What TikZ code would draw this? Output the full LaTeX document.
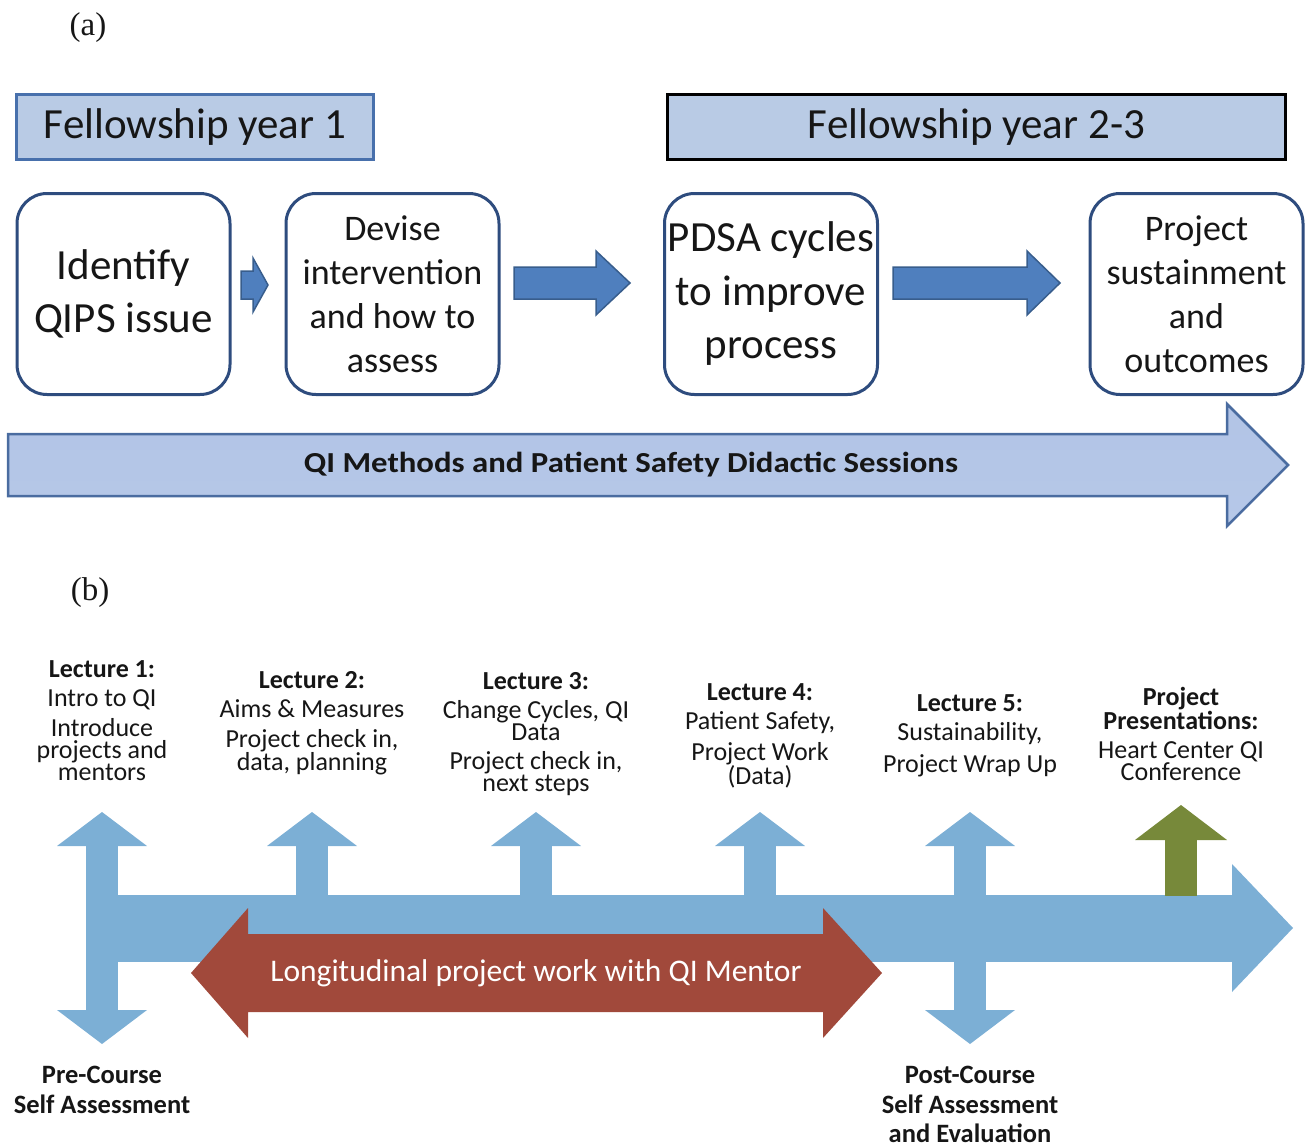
\documentclass[tikz,border=0pt]{standalone}
\usepackage{fontspec}
\setmainfont{Carlito}
\newfontfamily\serifA{Liberation Serif}
\definecolor{txt}{RGB}{22,22,22}
\definecolor{fellowfill}{RGB}{185,203,229}
\definecolor{fellowedge}{RGB}{72,112,172}
\definecolor{navy}{RGB}{46,76,126}
\definecolor{arrowfill}{RGB}{79,127,190}
\definecolor{arrowedge}{RGB}{56,93,140}
\definecolor{didtop}{RGB}{178,196,230}
\definecolor{didmid}{RGB}{214,224,242}
\definecolor{didbot}{RGB}{182,200,232}
\definecolor{didedge}{RGB}{74,108,160}
\definecolor{lblue}{RGB}{124,175,213}
\definecolor{olive}{RGB}{119,137,58}
\definecolor{brick}{RGB}{161,73,59}
\newcommand{\blockR}[6]{% x0, xbase, xtip, yc, halfshaft, halfhead
  (#1,{#4-#5}) -- (#2,{#4-#5}) -- (#2,{#4-#6}) -- (#3,#4) -- (#2,{#4+#6}) -- (#2,{#4+#5}) -- (#1,{#4+#5}) -- cycle}
\newcommand{\upArrowB}[1]{% center x of lecture arrow
  \fill[lblue] ({#1-16},846) rectangle ({#1+16},896);
  \fill[lblue] ({#1-45},846) -- (#1,812) -- ({#1+45},846) -- cycle;}
\begin{document}
\begin{tikzpicture}[x=1pt,y=-1pt,
  every node/.style={text=txt},
  fellowbox/.style={draw=fellowedge, line width=3pt, fill=fellowfill, inner sep=0pt,
     minimum height=65pt, font=\fontsize{43}{52}\selectfont},
  stepbox/.style={draw=navy, line width=3pt, rounded corners=30pt, fill=white,
     align=center, inner sep=0pt, minimum width=213pt, minimum height=201pt},
  bigtxt/.style={font=\fontsize{43}{53}\selectfont},
  medtxt/.style={font=\fontsize{36}{44}\selectfont},
  lbl/.style={align=center, anchor=north, inner sep=0pt, font=\fontsize{26}{22}\selectfont},
  lblb/.style={align=center, anchor=north, inner sep=0pt, font=\fontsize{26.5}{29.5}\selectfont\bfseries},
  panel/.style={font=\serifA\fontsize{33}{36}\selectfont, inner sep=0pt}
]
\useasboundingbox (0,0) rectangle (1307,1146);

% ---------------- (a) ----------------
\node[panel] (pa) at (88,28) {(a)};
\node[fellowbox, minimum width=357pt] (fy1) at (195,127) {Fellowship year 1};
\node[fellowbox, draw=black, minimum width=618pt] (fy2) at (976.5,127) {Fellowship year 2-3};

\node[stepbox, bigtxt] (s1) at (123.5,294) {Identify\\QIPS issue};
\node[stepbox, medtxt] (s2) at (392.5,294) {Devise\\intervention\\and how to\\assess};
\node[stepbox, font=\fontsize{43}{53.5}\selectfont] (s3) at (771,294) {PDSA cycles\\to improve\\process};
\node[stepbox, medtxt] (s4) at (1196.5,294) {Project\\sustainment\\and\\outcomes};

\path[fill=arrowfill, draw=arrowedge, line width=1.5pt] \blockR{241}{253}{268}{285}{14}{27};
\path[fill=arrowfill, draw=arrowedge, line width=1.5pt] \blockR{514}{596}{630}{283}{16}{32};
\path[fill=arrowfill, draw=arrowedge, line width=1.5pt] \blockR{893}{1027}{1060}{283}{16}{32};

\path[draw=didedge, line width=2.5pt, top color=didtop, middle color=didmid, bottom color=didbot]
  \blockR{8}{1227}{1288}{465}{31}{61};
\node[font=\fontsize{29}{32}\selectfont\bfseries] (did) at (631,465) {\scalebox{1.13}[1]{QI Methods and Patient Safety Didactic Sessions}};

% ---------------- (b) ----------------
\node[panel] (pb) at (90,593) {(b)};

% main timeline arrow
\fill[lblue] (100,895) rectangle (1233,962);
\fill[lblue] (1232,864) -- (1293,928) -- (1232,992) -- cycle;
% lecture 1 double arrow
\fill[lblue] (86,846) rectangle (118,1010);
\fill[lblue] (57,846) -- (102,812) -- (147,846) -- cycle;
\fill[lblue] (57,1010) -- (102,1044) -- (147,1010) -- cycle;
% lectures 2-5
\upArrowB{312}
\upArrowB{536}
\upArrowB{760}
\upArrowB{970}
% post-course down arrow
\fill[lblue] (954,960) rectangle (986,1010);
\fill[lblue] (925,1010) -- (970,1044) -- (1015,1010) -- cycle;
% green arrow
\fill[olive] (1165,840) rectangle (1197,896);
\fill[olive] (1135,840) -- (1181,805) -- (1227,840) -- cycle;
% red double arrow
\fill[brick] (191,973) -- (248,908) -- (248,934) -- (823,934) -- (823,908) -- (882,973)
  -- (823,1038) -- (823,1012) -- (248,1012) -- (248,1038) -- cycle;
\node[text=white, font=\fontsize{31.5}{34}\selectfont] (lw) at (536,973) {Longitudinal project work with QI Mentor};

% labels
\node[lbl] (l1) at (102,660) {\textbf{Lecture 1:}\\[7pt]Intro to QI\\[8pt]Introduce\\projects and\\mentors};
\node[lbl] (l2) at (312,671) {\textbf{Lecture 2:}\\[7pt]Aims \& Measures\\[8pt]Project check in,\\data, planning};
\node[lbl] (l3) at (536,672) {\textbf{Lecture 3:}\\[7pt]Change Cycles, QI\\Data\\[7pt]Project check in,\\next steps};
\node[lbl] (l4) at (760,683) {\textbf{Lecture 4:}\\[7pt]Patient Safety,\\[8pt]Project Work\\(Data)};
\node[lbl] (l5) at (970,694) {\textbf{Lecture 5:}\\[7pt]Sustainability,\\[9pt]Project Wrap Up};
\node[lbl] (l6) at (1181,687) {\textbf{Project}\\\textbf{Presentations:}\\[7pt]Heart Center QI\\Conference};
\node[lblb] (pre) at (102,1066) {Pre-Course\\Self Assessment};
\node[lblb] (post) at (970,1066) {Post-Course\\Self Assessment\\and Evaluation};
\end{tikzpicture}
\end{document}
